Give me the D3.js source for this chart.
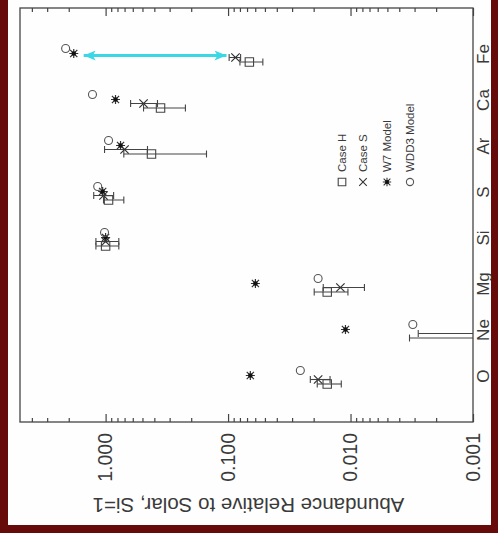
<!DOCTYPE html>
<html>
<head>
<meta charset="utf-8">
<script src="https://cdn.jsdelivr.net/npm/d3@7"></script>
<style>
  html, body { margin: 0; padding: 0; background: #660a0a; }
  svg { display: block; }
  text { font-family: "Liberation Sans", Arial, sans-serif; fill: #3a3a3a; }
</style>
</head>
<body>
<div id="content"></div>
<script>
// data
const elements = ["O", "Ne", "Mg", "Si", "S", "Ar", "Ca", "Fe"];
const caseH   = [0.0155, 0.0005, 0.0155, 1.00, 0.946, 0.422, 0.356, 0.067];
const caseHLo = [0.0119, 0.0001, 0.0105, 0.78, 0.71, 0.150, 0.223, 0.052];
const caseHHi = [0.0187, 0.0033, 0.0198, 1.20, 1.04, 0.71, 0.49, 0.080];
const caseS   = [0.0184, 0.0005, 0.0121, 1.00, 1.04, 0.70, 0.49, 0.087];
const caseSLo = [0.0147, 0.0001, 0.0077, 0.78, 0.86, 0.455, 0.377, 0.079];
const caseSHi = [0.0213, 0.0028, 0.0167, 1.20, 1.25, 1.02, 0.625, 0.098];
const w7      = [0.0658, 0.0110, 0.0598, 1.00, 1.057, 0.755, 0.83, 1.82];
const wdd3    = [0.0257, 0.0031, 0.0184, 1.02, 1.16, 0.946, 1.28, 2.12];
const majorTicks = [0.001, 0.01, 0.1, 1];
const legendLabels = ["Case H", "Case S", "W7 Model", "WDD3 Model"];
const arrowElement = "Fe";
const arrowFrom = 1.51, arrowTo = 0.103;

const W = 498, H = 533;
const svg = d3.select("#content").append("svg")
    .attr("width", W)
    .attr("height", H);

// dark red border + white page
svg.append("rect").attr("width", W).attr("height", H).attr("fill", "#660a0a");
svg.append("rect").attr("x", 8).attr("y", 0).attr("width", 483).attr("height", 525).attr("fill", "#fefefe");

// the whole plot is drawn upright and then turned a quarter turn
const g = svg.append("g").attr("transform", "translate(0," + H + ") rotate(-90)");

const pLeft = 111, pRight = 525, pTop = 20, pBottom = 473;

const x = d3.scalePoint().domain(elements).range([pLeft, pRight]).padding(1);
const y = d3.scaleLog().domain([0.001, 5]).range([pBottom, pTop]);

const lineCol = "#444";
const textCol = "#3a3a3a";

// clip for marks
const defs = svg.append("defs");
defs.append("clipPath").attr("id", "plotclip")
    .append("rect").attr("x", pLeft).attr("y", pTop)
    .attr("width", pRight - pLeft).attr("height", pBottom - pTop);

// minor ticks
const minorTicks = [];
majorTicks.forEach(d => {
    for (let m = 2; m <= 9; m++) {
        if (d * m < 5) minorTicks.push(d * m);
    }
});

// axes on both log edges, ticks pointing inward
g.append("g")
    .attr("transform", "translate(" + pLeft + ",0)")
    .call(d3.axisLeft(y).tickValues(majorTicks).tickSizeInner(-8).tickSizeOuter(0)
        .tickPadding(11).tickFormat(d3.format(".3f")))
    .call(a => a.select(".domain").remove())
    .call(a => a.selectAll("line").attr("stroke", lineCol).attr("stroke-width", 1.2))
    .call(a => a.selectAll("text").attr("font-size", 19.5).attr("fill", textCol)
        .attr("font-family", "Liberation Sans, Arial, sans-serif"));

g.append("g")
    .attr("transform", "translate(" + pLeft + ",0)")
    .call(d3.axisLeft(y).tickValues(minorTicks).tickSizeInner(-4).tickSizeOuter(0).tickFormat(""))
    .call(a => a.select(".domain").remove())
    .call(a => a.selectAll("line").attr("stroke", lineCol).attr("stroke-width", 1.2));

g.append("g")
    .attr("transform", "translate(" + pRight + ",0)")
    .call(d3.axisRight(y).tickValues(majorTicks).tickSizeInner(-8).tickSizeOuter(0).tickFormat(""))
    .call(a => a.select(".domain").remove())
    .call(a => a.selectAll("line").attr("stroke", lineCol).attr("stroke-width", 1.2));

g.append("g")
    .attr("transform", "translate(" + pRight + ",0)")
    .call(d3.axisRight(y).tickValues(minorTicks).tickSizeInner(-4).tickSizeOuter(0).tickFormat(""))
    .call(a => a.select(".domain").remove())
    .call(a => a.selectAll("line").attr("stroke", lineCol).attr("stroke-width", 1.2));

// frame
g.append("rect")
    .attr("x", pLeft).attr("y", pTop)
    .attr("width", pRight - pLeft).attr("height", pBottom - pTop)
    .attr("fill", "none").attr("stroke", lineCol).attr("stroke-width", 1.3);

// element labels under the plot
g.append("g").selectAll("text")
    .data(elements)
    .enter()
    .append("text")
    .attr("x", d => x(d))
    .attr("y", 489)
    .attr("text-anchor", "middle")
    .attr("font-size", 17)
    .attr("fill", textCol)
    .text(d => d);

// axis title
g.append("text")
    .attr("transform", "translate(35," + ((pTop + pBottom) / 2 + 2) + ") rotate(-90)")
    .attr("text-anchor", "middle")
    .attr("font-size", 20.5)
    .attr("fill", textCol)
    .text("Abundance Relative to Solar, Si=1");

// symbol shapes
const sq = h => `M${-h},${-h}h${2 * h}v${2 * h}h${-2 * h}Z`;
const cross = h => `M${-h},${-h}L${h},${h}M${-h},${h}L${h},${-h}`;
const star = h => cross(h * 0.8) + `M0,${-h}V${h}M${-h},0H${h}`;

const marks = g.append("g").attr("clip-path", "url(#plotclip)");

// offsets along the element axis
const offH = -8, offS = -3.5, offW7 = 0.5, offWD = 5.5;

function errorBars(vals, lo, hi, off) {
    const rows = elements.map((e, i) => ({ e: e, v: vals[i], lo: lo[i], hi: hi[i] }));
    const grp = marks.append("g").attr("stroke", lineCol).attr("stroke-width", 1.1).attr("fill", "none");
    grp.selectAll(".bar").data(rows).enter().append("line")
        .attr("x1", d => x(d.e) + off).attr("x2", d => x(d.e) + off)
        .attr("y1", d => y(d.lo)).attr("y2", d => y(d.hi));
    grp.selectAll(".capLo").data(rows).enter().append("line")
        .attr("x1", d => x(d.e) + off - 3.5).attr("x2", d => x(d.e) + off + 3.5)
        .attr("y1", d => y(d.lo)).attr("y2", d => y(d.lo));
    grp.selectAll(".capHi").data(rows).enter().append("line")
        .attr("x1", d => x(d.e) + off - 3.5).attr("x2", d => x(d.e) + off + 3.5)
        .attr("y1", d => y(d.hi)).attr("y2", d => y(d.hi));
}

errorBars(caseH, caseHLo, caseHHi, offH);
errorBars(caseS, caseSLo, caseSHi, offS);

// Case H squares
marks.append("g").selectAll("path")
    .data(elements.map((e, i) => [e, caseH[i]]))
    .enter().append("path")
    .attr("transform", d => "translate(" + (x(d[0]) + offH) + "," + y(d[1]) + ")")
    .attr("d", sq(4.2))
    .attr("fill", "none").attr("stroke", lineCol).attr("stroke-width", 1.1);

// Case S crosses
marks.append("g").selectAll("path")
    .data(elements.map((e, i) => [e, caseS[i]]))
    .enter().append("path")
    .attr("transform", d => "translate(" + (x(d[0]) + offS) + "," + y(d[1]) + ")")
    .attr("d", cross(4.2))
    .attr("fill", "none").attr("stroke", "#333").attr("stroke-width", 1.2);

// W7 asterisks
const w7g = marks.append("g").selectAll("g")
    .data(elements.map((e, i) => [e, w7[i]]))
    .enter().append("g")
    .attr("transform", d => "translate(" + (x(d[0]) + offW7) + "," + y(d[1]) + ")");
w7g.append("path").attr("d", star(4.5)).attr("fill", "none").attr("stroke", "#333").attr("stroke-width", 1.2);
w7g.append("rect").attr("x", -2).attr("y", -2).attr("width", 4).attr("height", 4).attr("fill", "#111");

// WDD3 circles
marks.append("g").selectAll("circle")
    .data(elements.map((e, i) => [e, wdd3[i]]))
    .enter().append("circle")
    .attr("cx", d => x(d[0]) + offWD)
    .attr("cy", d => y(d[1]))
    .attr("r", 4)
    .attr("fill", "none").attr("stroke", "#555").attr("stroke-width", 1.1);

// cyan double arrow
defs.append("marker")
    .attr("id", "head")
    .attr("markerUnits", "userSpaceOnUse")
    .attr("markerWidth", 13).attr("markerHeight", 10)
    .attr("refX", 12).attr("refY", 5)
    .attr("orient", "auto-start-reverse")
    .append("path").attr("d", "M0,0L12,5L0,10L3,5Z").attr("fill", "#3ad8e6");

g.append("line")
    .attr("x1", x(arrowElement) - 1.5).attr("x2", x(arrowElement) - 1.5)
    .attr("y1", y(arrowFrom)).attr("y2", y(arrowTo))
    .attr("stroke", "#3ad8e6").attr("stroke-width", 3)
    .attr("marker-start", "url(#head)").attr("marker-end", "url(#head)");

// legend
const legendSyms = [
    { d: sq(3.8), stroke: lineCol, fill: false },
    { d: cross(3.8), stroke: "#333", fill: false },
    { d: star(4.2), stroke: "#333", fill: true },
    { d: null, stroke: "#555", fill: false }
];
const legRows = [342, 363, 387, 410];
const leg = g.append("g");
legendLabels.forEach((lab, i) => {
    const row = leg.append("g").attr("transform", "translate(351," + legRows[i] + ")");
    const s = legendSyms[i];
    if (s.d) {
        row.append("path").attr("d", s.d).attr("fill", "none").attr("stroke", s.stroke).attr("stroke-width", 1.1);
        if (s.fill) row.append("rect").attr("x", -1.8).attr("y", -1.8).attr("width", 3.6).attr("height", 3.6).attr("fill", "#111");
    } else {
        row.append("circle").attr("r", 3.6).attr("fill", "none").attr("stroke", s.stroke).attr("stroke-width", 1.1);
    }
    row.append("text")
        .attr("x", 10)
        .attr("dy", "0.36em")
        .attr("font-size", 11.5)
        .attr("fill", textCol)
        .text(lab);
});
</script>
</body>
</html>
